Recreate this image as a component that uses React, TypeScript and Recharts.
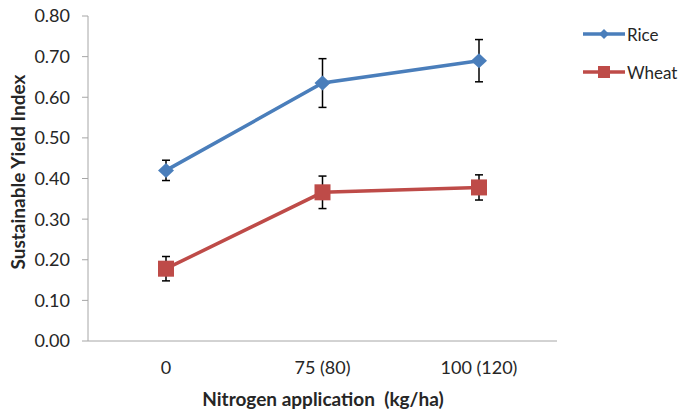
import { CartesianGrid, ErrorBar, Label, Legend, Line, LineChart, XAxis, YAxis } from "recharts";

const categories = ["0", "75 (80)", "100 (120)"];
const rice = [0.42, 0.635, 0.69];
const riceErr = [0.025, 0.06, 0.052];
const wheat = [0.178, 0.366, 0.378];
const wheatErr = [0.03, 0.04, 0.031];
const yTicks = [0, 0.1, 0.2, 0.3, 0.4, 0.5, 0.6, 0.7, 0.8];

const RICE = "#4a7ebb";
const WHEAT = "#be4b48";
const FONT = "Lato, 'Open Sans', sans-serif";
const TEXT = "#262626";

const data = categories.map((c, i) => ({
  cat: c,
  rice: rice[i],
  riceErr: riceErr[i],
  wheat: wheat[i],
  wheatErr: wheatErr[i],
}));

function Diamond({ cx, cy, fill }: { cx: number; cy: number; fill: string }) {
  return <path d={`M${cx},${cy - 7.5} L${cx + 8},${cy} L${cx},${cy + 7.5} L${cx - 8},${cy} Z`} fill={fill} />;
}

function Square({ cx, cy, fill }: { cx: number; cy: number; fill: string }) {
  return <rect x={cx - 8} y={cy - 8} width={16} height={16} fill={fill} />;
}

function XTick(props: any) {
  const { x, payload } = props;
  return (
    <text x={x} y={367} textAnchor="middle" dominantBaseline="central" fontSize={18} fill={TEXT} fontFamily={FONT}>
      {payload.value}
    </text>
  );
}

function LegendBox(props: any) {
  const items = props.payload || [];
  return (
    <svg width={100} height={70}>
      {items.map((it: any, i: number) => {
        const y = 10 + i * 38;
        return (
          <g key={it.value}>
            <line x1={0} x2={42} y1={y} y2={y} stroke={it.color} strokeWidth={3.5} />
            {it.value === "Rice" ? (
              <path d={`M21,${y - 5} L26,${y} L21,${y + 5} L16,${y} Z`} fill={it.color} />
            ) : (
              <rect x={15} y={y - 6} width={12} height={12} fill={it.color} />
            )}
            <text x={44} y={y} dominantBaseline="central" fontSize={17} fill={TEXT} fontFamily={FONT}>
              {it.value}
            </text>
          </g>
        );
      })}
    </svg>
  );
}

export default function App() {
  return (
    <div style={{ position: "absolute", left: 0, top: 0, width: 684, height: 412, background: "#fff" }}>
      <LineChart width={684} height={412} data={data} margin={{ top: 16, right: 127, left: 0, bottom: 0 }}>
        <CartesianGrid horizontal={false} vertical={false} />
        <XAxis
          dataKey="cat"
          height={71}
          padding={{ left: 78, right: 78 }}
          axisLine={{ stroke: "#a6a6a6" }}
          tickLine={false}
          tick={<XTick />}
          interval={0}
        >
          <Label
            content={() => (
              <text
                x={323}
                y={398}
                textAnchor="middle"
                dominantBaseline="central"
                fontSize={19}
                fontWeight="bold"
                fill={TEXT}
                fontFamily={FONT}
                style={{ whiteSpace: "pre" }}
              >
                {"Nitrogen application  (kg/ha)"}
              </text>
            )}
          />
        </XAxis>
        <YAxis
          width={88}
          domain={[0, 0.8]}
          ticks={yTicks}
          tickFormatter={(v: number) => v.toFixed(2)}
          axisLine={{ stroke: "#a6a6a6" }}
          tickLine={{ stroke: "#a6a6a6" }}
          tickSize={6}
          tickMargin={12}
          tick={{ fill: TEXT, fontSize: 18, fontFamily: FONT }}
        >
          <Label
            content={() => (
              <text
                x={17}
                y={172}
                transform="rotate(-90 17 172)"
                textAnchor="middle"
                dominantBaseline="central"
                fontSize={19}
                fontWeight="bold"
                fill={TEXT}
                fontFamily={FONT}
              >
                Sustainable Yield Index
              </text>
            )}
          />
        </YAxis>
        <Legend
          align="center"
          verticalAlign="middle"
          content={<LegendBox />}
          wrapperStyle={{ left: 583, top: 24, width: 100, height: 70 }}
        />
        <Line
          dataKey="rice"
          name="Rice"
          stroke={RICE}
          strokeWidth={3.5}
          dot={(p: any) => <Diamond key={`r${p.index}`} cx={p.cx} cy={p.cy} fill={RICE} />}
          activeDot={false}
          isAnimationActive={false}
        >
          <ErrorBar dataKey="riceErr" direction="y" width={4} stroke="#000" strokeWidth={1.5} isAnimationActive={false} />
        </Line>
        <Line
          dataKey="wheat"
          name="Wheat"
          stroke={WHEAT}
          strokeWidth={3.5}
          dot={(p: any) => <Square key={`w${p.index}`} cx={p.cx} cy={p.cy} fill={WHEAT} />}
          activeDot={false}
          isAnimationActive={false}
        >
          <ErrorBar dataKey="wheatErr" direction="y" width={4} stroke="#000" strokeWidth={1.5} isAnimationActive={false} />
        </Line>
      </LineChart>
    </div>
  );
}
